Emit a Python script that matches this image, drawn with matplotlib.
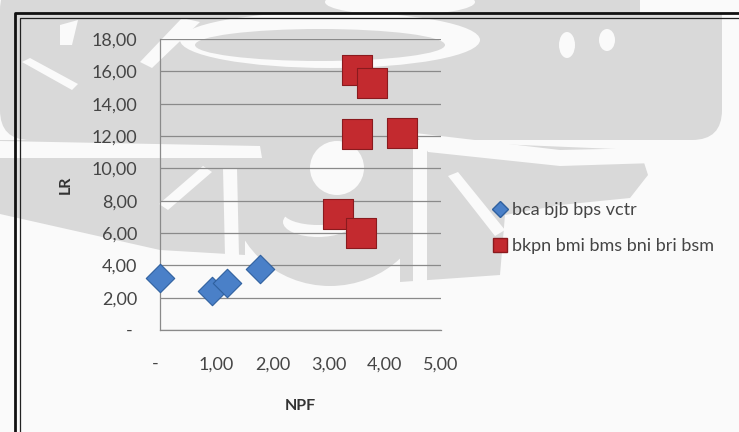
import matplotlib
matplotlib.use("Agg")
import matplotlib.pyplot as plt
from matplotlib.patches import Rectangle, Ellipse, Polygon, Circle, FancyBboxPatch
from matplotlib.lines import Line2D

# NPF (x) and LR (y) per bank group
blue_label = "bca bjb bps vctr"
blue_npf = [0.00, 0.93, 1.20, 1.78]
blue_lr = [3.20, 2.40, 2.90, 3.80]

red_label = "bkpn bmi bms bni bri bsm"
red_npf = [3.50, 3.78, 3.50, 4.30, 3.17, 3.57]
red_lr = [16.10, 15.30, 12.10, 12.20, 7.20, 6.00]

x_ticks = [0, 1, 2, 3, 4, 5]
y_ticks = [0, 2, 4, 6, 8, 10, 12, 14, 16, 18]


def fmt(v):
    return "-" if v == 0 else f"{v:.2f}".replace(".", ",")


plt.rcParams["font.family"] = ["Lato", "DejaVu Sans"]
text_color = "#454545"
paper = "#fafafa"
shade = "#d9d9d9"

W, H = 739, 432
fig = plt.figure(figsize=(W / 100, H / 100), dpi=100)
fig.patch.set_facecolor(paper)

# background layer in pixel coordinates: faint seal behind the chart
bg = fig.add_axes([0, 0, 1, 1], zorder=0)
bg.set_xlim(0, W)
bg.set_ylim(H, 0)
bg.axis("off")

gray_parts = [
    FancyBboxPatch((0, -20), 722, 160, boxstyle="round,pad=0,rounding_size=30"),
    Polygon([(0, 140), (245, 140), (245, 255), (160, 250), (0, 214)]),
    Ellipse((330, 190), 200, 192),
    Polygon([(400, 140), (640, 150), (648, 175), (630, 198), (560, 205),
             (505, 215), (500, 275), (400, 282)]),
]
white_parts = [
    # ring around the top oval
    Ellipse((330, 40), 300, 56),
    Ellipse((400, 2), 150, 26),
    Polygon([(140, 62), (182, 18), (200, 22), (152, 68)]),
    Rectangle((640, 0), 99, 14),
    Polygon([(0, 141), (260, 146), (262, 158), (0, 158)]),
    Polygon([(415, 133), (560, 150), (650, 148), (655, 163), (560, 166), (428, 152)]),
    Circle((337, 168), 27),
    Polygon([(223, 168), (237, 168), (240, 300), (226, 300)]),
    Polygon([(203, 166), (212, 172), (168, 210), (159, 204)]),
    Polygon([(448, 176), (458, 172), (505, 230), (495, 236)]),
    Polygon([(413, 140), (427, 140), (427, 282), (413, 282)]),
    Polygon([(22, 62), (30, 58), (78, 84), (72, 90)]),
    Ellipse((567, 45), 16, 26),
    Ellipse((607, 40), 16, 22),
    Polygon([(60, 25), (78, 20), (72, 45), (60, 45)]),
]
for p in gray_parts:
    p.set_facecolor(shade)
    p.set_edgecolor("none")
    bg.add_patch(p)
for p in white_parts:
    p.set_facecolor(paper)
    p.set_edgecolor("none")
    bg.add_patch(p)
bg.add_patch(Ellipse((320, 45), 250, 32, facecolor=shade, edgecolor="none"))
# smile-shaped light stroke under the circle
bg.add_patch(Ellipse((318, 222), 70, 30, facecolor=paper, edgecolor="none"))
bg.add_patch(Ellipse((318, 212), 70, 26, facecolor=shade, edgecolor="none"))

# double chart frame running past the right and bottom edges
bg.add_line(Line2D([15, 15, W], [H, 13, 13], color="#111111", linewidth=2.0, zorder=10))
bg.add_line(Line2D([20, 20, W], [H, 17.5, 17.5], color="#222222", linewidth=0.9, zorder=10))

ax = fig.add_axes([160 / W, 1 - 330 / H, 281 / W, 291 / H], zorder=1)
ax.set_facecolor("none")
ax.set_xlim(0, 5)
ax.set_ylim(0, 18)

ax.set_yticks(y_ticks)
ax.set_yticklabels([fmt(v) + (" " if v == 0 else "") for v in y_ticks])
ax.set_xticks(x_ticks)
ax.set_xticklabels([fmt(v) + ("  " if v == 0 else "") for v in x_ticks])
ax.tick_params(axis="both", length=0, labelsize=13, colors=text_color)
ax.tick_params(axis="y", pad=16.5)
ax.tick_params(axis="x", pad=19)

ax.grid(axis="y", color="#8a8a8a", linewidth=0.9)
ax.set_axisbelow(True)
for s in ("top", "right"):
    ax.spines[s].set_visible(False)
for s in ("left", "bottom"):
    ax.spines[s].set_color("#8a8a8a")
    ax.spines[s].set_linewidth(0.9)

ax.scatter(blue_npf, blue_lr, marker="D", s=210, color="#4a80c8",
           edgecolors="#2f609f", linewidths=0.8, zorder=3, clip_on=False)
ax.scatter(red_npf, red_lr, marker="s", s=460, color="#c32a2f",
           edgecolors="#8a1a1e", linewidths=0.8, zorder=3, clip_on=False)

ax.set_xlabel("NPF", fontsize=11.5, fontweight="bold", color="#333333", labelpad=19)
ax.set_ylabel("LR", fontsize=11.5, fontweight="bold", color="#333333", labelpad=13.5)

handles = [
    Line2D([], [], marker="D", linestyle="none", markersize=8.5,
           markerfacecolor="#4a80c8", markeredgecolor="#2f609f"),
    Line2D([], [], marker="s", linestyle="none", markersize=9.5,
           markerfacecolor="#c32a2f", markeredgecolor="#8a1a1e"),
]
fig.legend(handles, [blue_label, red_label], loc="upper left",
           bbox_to_anchor=(485 / W, 1 - 193 / H), frameon=False,
           fontsize=13, labelcolor=text_color, handlelength=0.7,
           handletextpad=0.3, labelspacing=1.1, borderpad=0)

fig.savefig("out.png", dpi=100, facecolor=fig.get_facecolor())
